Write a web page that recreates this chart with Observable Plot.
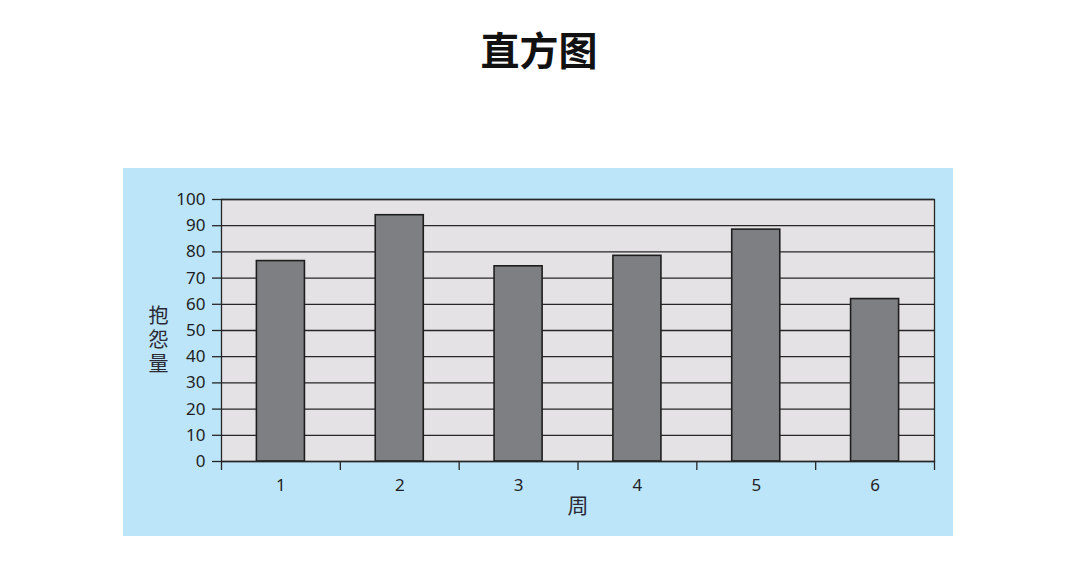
<!DOCTYPE html>
<html><head><meta charset="utf-8">
<script src="https://cdn.jsdelivr.net/npm/d3@7"></script>
<script src="https://cdn.jsdelivr.net/npm/@observablehq/plot@0.6"></script>
<style>
body{margin:0;background:#fff;width:1082px;height:570px;position:relative;overflow:hidden;}
#title{position:absolute;left:0;width:1078px;top:29px;text-align:center;font-size:39px;font-weight:700;line-height:1;font-family:"Noto Sans CJK SC",sans-serif;color:#111;}
#panel{position:absolute;left:123px;top:168px;width:830px;height:368px;background:#bde5f9;}
#panel svg{display:block;}
</style></head><body>
<div id="title"></div>
<div id="panel"></div>
<script>
const title = "直方图";
const weeks = [1, 2, 3, 4, 5, 6];
const complaints = [76.5, 94, 74.5, 78.5, 88.5, 62];
const yTicks = [0, 10, 20, 30, 40, 50, 60, 70, 80, 90, 100];
const yLabel = "抱怨量";
const xLabel = "周";

document.getElementById("title").textContent = title;
const data = weeks.map((w, i) => ({week: w, value: complaints[i]}));
const bounds = [...weeks.map(w => w - 0.5), weeks[weeks.length - 1] + 0.5];
const font = '"Noto Sans","Noto Sans CJK SC",sans-serif';
const cjk = '"Noto Sans CJK SC",sans-serif';
const ink = "#262626";

const chart = Plot.plot({
  width: 830, height: 368,
  marginLeft: 98, marginRight: 19, marginTop: 31, marginBottom: 75,
  style: {background: "transparent", fontFamily: font, fontSize: "17px", color: "#1e1e24"},
  x: {domain: [bounds[0], bounds[bounds.length - 1]]},
  y: {domain: [0, 100]},
  marks: [
    Plot.frame({fill: "#e4e2e5", stroke: "none"}),
    Plot.gridY({ticks: yTicks, stroke: ink, strokeOpacity: 1, strokeWidth: 1.3}),
    Plot.rectY(data, {x1: d => d.week - 0.5, x2: d => d.week + 0.5, y: "value", insetLeft: 35.4, insetRight: 35.4, fill: "#7e7f83", stroke: "#1e1e1e", strokeWidth: 1.6}),
    Plot.frame({stroke: ink, strokeWidth: 1.3}),
    Plot.axisY({ticks: yTicks, tickSize: 9, tickPadding: 7, label: null, stroke: ink, strokeWidth: 1.3, fontSize: 17}),
    Plot.axisX({ticks: bounds, tickSize: 9, tickFormat: () => "", label: null, stroke: ink, strokeWidth: 1.3}),
    Plot.axisX({ticks: weeks, tickSize: 0, tickPadding: 17, tickFormat: d => String(d), label: null, fontSize: 17}),
    Plot.text([yLabel.split("").join("\n")], {frameAnchor: "left", dx: -63, dy: 9, fontSize: 20, lineHeight: 1.2, textAnchor: "middle", fontFamily: cjk, fill: "#2a2a36"}),
    Plot.text([xLabel], {frameAnchor: "bottom", dy: 51, fontSize: 21, fontFamily: cjk, fill: "#2a2a36"})
  ]
});
document.getElementById("panel").appendChild(chart);
</script>
</body></html>
